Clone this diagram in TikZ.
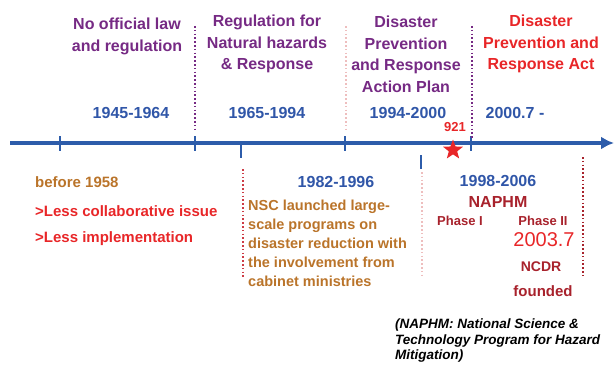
\documentclass[tikz,border=0pt]{standalone}
\usepackage{fontspec}
\setmainfont{Liberation Sans}
\usepackage{tikz}
\usetikzlibrary{arrows.meta,shapes.geometric}
\usepackage{xcolor}
\definecolor{axisblue}{RGB}{45,92,170}
\definecolor{yearblue}{RGB}{48,86,168}
\definecolor{lawpurple}{RGB}{118,42,132}
\definecolor{actred}{RGB}{232,38,40}
\definecolor{darkred}{RGB}{168,34,44}
\definecolor{notebrown}{RGB}{186,116,42}
\definecolor{sepred}{RGB}{205,60,70}
\definecolor{seppink}{RGB}{238,190,190}

\begin{document}
\begin{tikzpicture}[x=1pt, y=-1pt, >=Latex,
    period/.style={font=\fontsize{16}{21.5}\selectfont\bfseries, align=center, anchor=north, inner sep=0pt, text=lawpurple},
    year/.style={font=\fontsize{16}{18}\selectfont\bfseries, text=yearblue, inner sep=0pt},
    note/.style={font=\fontsize{15}{19}\selectfont\bfseries, anchor=west, inner sep=0pt},
    sep/.style={line width=1.6pt, dash pattern=on 1.6pt off 2.2pt},
    tick/.style={axisblue, line width=2pt}]
    \useasboundingbox (0,0) rectangle (616,369);

    % time axis
    \coordinate (start) at (10,143);
    \coordinate (end) at (614,143);
    \draw[axisblue, line width=4pt, -{Latex[length=13pt,width=13pt]}] (start) -- (end);
    \foreach \x in {60,195,345,471}
      \draw[tick] (\x,136) -- (\x,151);
    \draw[tick] (241,143) -- (241,158);
    \draw[tick] (421,155) -- (421,169);

    % dotted dividers
    \draw[sep, lawpurple] (195,26) -- (195,130);
    \draw[sep, seppink] (346,26) -- (346,130);
    \draw[sep, lawpurple] (472,26) -- (472,138);
    \draw[sep, sepred] (243,169) -- (243,278);
    \draw[sep, seppink] (422,172) -- (422,278);
    \draw[sep, darkred] (583,157) -- (583,276);

    % periods above the axis
    \node[period] (era1) at (127,18) {No official law\\and regulation};
    \node[period] (era2) at (267,15) {Regulation for\\Natural hazards\\\& Response};
    \node[period] (era3) at (406,16) {Disaster\\Prevention\\and Response\\Action Plan};
    \node[period, text=actred] (era4) at (541,15) {Disaster\\Prevention and\\Response Act};

    \node[year] (yr1) at (131,113) {1945-1964};
    \node[year] (yr2) at (267,113) {1965-1994};
    \node[year] (yr3) at (408,113) {1994-2000};
    \node[year] (yr4) at (515,113) {2000.7 -};

    % 921 earthquake
    \node[star, star points=5, star point ratio=2.4, fill=actred, minimum size=21pt, inner sep=0pt] (quake) at (453,150) {};
    \node[font=\fontsize{13}{15}\selectfont\bfseries, text=actred, inner sep=0pt] (quakeyr) at (455,127) {921};

    % below the axis
    \node[note, text=notebrown] (before) at (35,182) {before 1958};
    \node[note, text=actred] (less1) at (35,211) {>Less collaborative issue};
    \node[note, text=actred] (less2) at (35,239) {>Less implementation};

    \node[year] (yr5) at (336,182) {1982-1996};
    \node[font=\fontsize{14.5}{19}\selectfont\bfseries, text=notebrown, align=left, anchor=north west, inner sep=0pt] (nsc) at (248,200)
      {NSC launched large-\\scale programs on\\disaster reduction with\\the involvement from\\cabinet ministries};

    \node[year] (yr6) at (498,181) {1998-2006};
    \node[font=\fontsize{16}{18}\selectfont\bfseries, text=darkred, inner sep=0pt] (naphm) at (498,202) {NAPHM};
    \node[font=\fontsize{13}{15}\selectfont\bfseries, text=darkred, inner sep=0pt] (ph1) at (460,221) {Phase I};
    \node[font=\fontsize{13}{15}\selectfont\bfseries, text=darkred, inner sep=0pt] (ph2) at (543,221) {Phase II};
    \node[font=\fontsize{20}{22}\selectfont, text=actred, inner sep=0pt] (ncdryr) at (544,240) {2003.7};
    \node[font=\fontsize{14}{16}\selectfont\bfseries, text=darkred, inner sep=0pt] (ncdr) at (541,267) {NCDR};
    \node[font=\fontsize{15}{17}\selectfont\bfseries, text=darkred, inner sep=0pt] (found) at (543,291) {founded};

    \node[font=\fontsize{13.5}{15.5}\selectfont\bfseries\itshape, align=left, anchor=north west, inner sep=0pt] (foot) at (395,319)
      {(NAPHM: National Science \&\\Technology Program for Hazard\\Mitigation)};
  \end{tikzpicture}
\end{document}
